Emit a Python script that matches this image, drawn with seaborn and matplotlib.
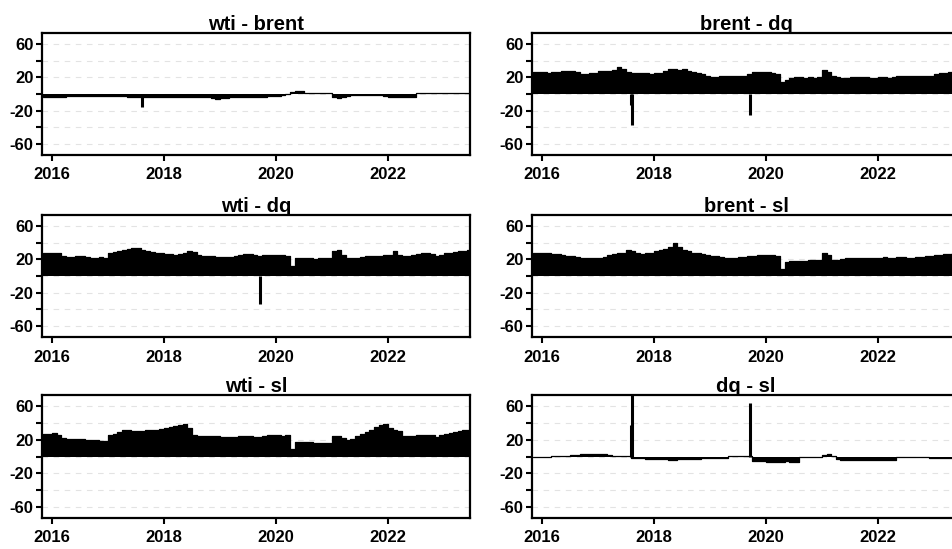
import numpy as np
import pandas as pd
import matplotlib
matplotlib.use("Agg")
import matplotlib.pyplot as plt
import matplotlib.dates as mdates
import seaborn as sns

# ---------------- data ----------------
months = pd.date_range("2015-11-01", "2023-06-01", freq="MS")  # 92 monthly periods
end_date = pd.Timestamp("2023-06-20")

titles = ["wti - brent", "brent - dq", "wti - dq", "brent - sl", "wti - sl", "dq - sl"]

wti_brent = [-3, -3,
             -3, -3, -3, -2, -2, -2, -2, -2, -2, -2, -2, -2,
             -2, -2, -2, -2, -3, -3, -3, -3, -3, -3, -3, -3,
             -4, -4, -4, -3, -3, -4, -4, -4, -4, -4, -5, -6,
             -5, -5, -4, -4, -4, -4, -4, -4, -3, -3, -2, -2,
             -2, -1, 0, 2, 4, 3, 1, 1, 1, 1, 1, 1,
             -3, -5, -4, -2, -1, -1, -1, -1, -1, -1, -1, -2,
             -3, -3, -3, -3, -3, -3, 1, 1, 1, 1, 1, 1,
             1, 1, 1, 1, 1, 1]
brent_dq = [26, 26,
            26, 25, 26, 26, 27, 27, 28, 26, 24, 24, 25, 25,
            28, 27, 27, 29, 32, 30, 26, 25, 25, 25, 25, 24,
            25, 25, 28, 30, 30, 29, 30, 28, 26, 25, 24, 22,
            20, 20, 21, 21, 22, 21, 21, 22, 24, 26, 26, 26,
            26, 25, 24, 14, 17, 19, 20, 20, 19, 20, 19, 20,
            29, 26, 22, 20, 19, 19, 20, 20, 20, 20, 19, 19,
            20, 20, 19, 20, 21, 21, 21, 22, 22, 22, 21, 22,
            24, 25, 25, 26, 26, 26]
wti_dq = [27, 28,
          28, 27, 24, 23, 23, 24, 24, 23, 22, 22, 23, 22,
          28, 29, 30, 31, 32, 34, 33, 31, 30, 29, 28, 27,
          26, 26, 25, 26, 27, 30, 29, 25, 24, 24, 24, 23,
          23, 23, 23, 24, 25, 26, 26, 25, 24, 25, 25, 25,
          25, 25, 24, 12, 21, 22, 22, 21, 20, 21, 21, 22,
          30, 31, 25, 21, 21, 22, 23, 24, 24, 24, 24, 25,
          25, 30, 25, 24, 24, 25, 26, 27, 27, 26, 24, 25,
          27, 28, 29, 30, 30, 31]
brent_sl = [27, 28,
            28, 27, 26, 26, 25, 24, 24, 23, 22, 22, 22, 22,
            22, 23, 25, 26, 28, 28, 31, 30, 27, 26, 27, 28,
            30, 31, 32, 35, 39, 35, 31, 30, 28, 27, 26, 25,
            24, 24, 23, 22, 22, 22, 23, 23, 24, 24, 25, 25,
            25, 25, 24, 8, 17, 18, 18, 18, 18, 19, 19, 19,
            28, 25, 19, 19, 20, 21, 21, 21, 22, 22, 22, 22,
            22, 23, 22, 22, 23, 23, 22, 22, 23, 23, 24, 24,
            25, 25, 26, 26, 27, 27]
wti_sl = [27, 27,
          28, 26, 22, 21, 21, 21, 21, 20, 20, 19, 18, 18,
          26, 27, 29, 31, 31, 30, 30, 30, 31, 32, 32, 33,
          34, 35, 36, 37, 38, 34, 25, 24, 24, 24, 24, 24,
          23, 23, 23, 23, 24, 24, 24, 23, 23, 24, 25, 25,
          25, 24, 25, 9, 17, 17, 17, 17, 16, 16, 16, 16,
          24, 24, 22, 19, 21, 24, 27, 29, 32, 35, 37, 38,
          34, 32, 30, 24, 24, 24, 25, 26, 26, 25, 23, 25,
          27, 28, 29, 30, 31, 31]
dq_sl = [0, 0,
         0, 0, 1, 1, 1, 1, 2, 2, 3, 3, 3, 3,
         3, 3, 2, 1, 1, 1, 1, -2, -2, -2, -3, -3,
         -3, -3, -3, -4, -4, -3, -3, -3, -3, -3, -2, -2,
         -2, -2, -2, -2, 1, 1, 1, 1, 1, -5, -5, -5,
         -6, -6, -6, -6, -5, -6, -6, -1, -1, -1, -1, -1,
         2, 3, 1, -3, -4, -4, -4, -4, -4, -4, -4, -4,
         -4, -4, -4, -4, -1, -1, -1, -1, -1, -1, -1, -2,
         -2, -2, -2, -2, -2, -2]

series = [wti_brent, brent_dq, wti_dq, brent_sl, wti_sl, dq_sl]

# single-day spikes: (dates, values) per panel
spike_dates = [["2017-08-10"],
               ["2017-08-04", "2017-08-12", "2019-09-16"],
               ["2019-09-16"],
               [],
               [],
               ["2017-08-04", "2017-08-12", "2019-09-16"]]
spike_values = [[-15],
                [-13, -37, -25],
                [-33],
                [],
                [],
                [37, 75, 64]]

yticks = [-60, -40, -20, 0, 20, 40, 60]
ytick_labels = ["-60", "", "-20", "", "20", "", "60"]
xtick_years = [2016, 2018, 2020, 2022]

# ---------------- style ----------------
sns.set_theme(style="white")
plt.rcParams["font.family"] = ["Liberation Sans", "DejaVu Sans"]
plt.rcParams["font.weight"] = "bold"
plt.rcParams["text.color"] = "black"
plt.rcParams["axes.titlecolor"] = "black"

W, H = 953, 549
fig = plt.figure(figsize=(W / 100, H / 100), dpi=100)

col_x = [(42, 470), (532, 960)]
row_y = [(33, 155), (215, 337), (395, 518)]

for i, (title, vals) in enumerate(zip(titles, series)):
    r, c = divmod(i, 2)
    x0, x1 = col_x[c]
    yt, yb = row_y[r]
    ax = fig.add_axes([x0 / W, 1 - yb / H, (x1 - x0) / W, (yb - yt) / H])

    df = pd.DataFrame({"date": list(months) + [end_date],
                       "value": list(vals) + [vals[-1]]})
    ax.fill_between(df["date"], 0, df["value"], step="post",
                    color="black", linewidth=0, zorder=3)
    sns.lineplot(data=df, x="date", y="value", drawstyle="steps-post",
                 color="black", linewidth=0.9, ax=ax, zorder=4)
    if spike_dates[i]:
        sd = pd.to_datetime(spike_dates[i])
        ax.vlines(sd, 0, spike_values[i], color="black", linewidth=2.2, zorder=5)

    ax.set_ylim(-73, 73)
    ax.set_xlim(pd.Timestamp("2015-10-27"), pd.Timestamp("2023-06-20"))
    ax.set_yticks(yticks)
    ax.set_yticklabels(ytick_labels)
    ax.set_xticks([pd.Timestamp(f"{y}-01-01") for y in xtick_years])
    ax.set_xticklabels([str(y) for y in xtick_years])
    for yv in yticks:
        ax.axhline(yv, color="#e3e3e3", linewidth=0.8, linestyle=(0, (5, 5)), zorder=1)

    ax.set_xlabel("")
    ax.set_ylabel("")
    ax.set_title(title, fontsize=14.5, fontweight="bold", color="black", pad=2)
    ax.tick_params(axis="both", which="major", direction="out", length=4, width=1.5,
                   color="black", labelsize=12, labelcolor="black", pad=2,
                   left=True, bottom=True)
    ax.tick_params(axis="x", pad=5)
    for lab in ax.get_xticklabels() + ax.get_yticklabels():
        lab.set_fontweight("bold")
    for sp in ax.spines.values():
        sp.set_visible(True)
        sp.set_color("black")
        sp.set_linewidth(1.6)
    ax.set_facecolor("white")

fig.savefig("out.png", dpi=100, facecolor="white")
